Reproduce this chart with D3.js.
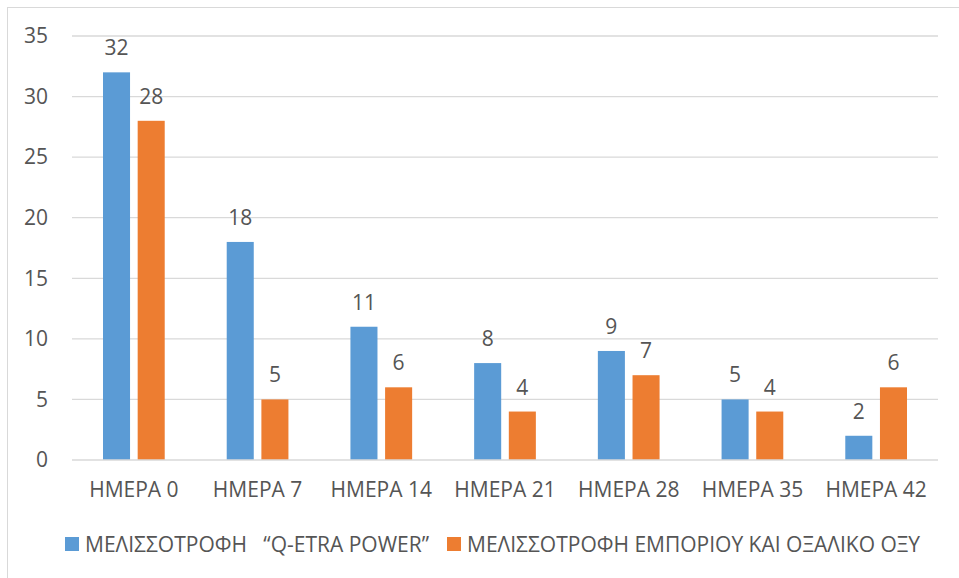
<!DOCTYPE html>
<html>
<head>
<meta charset="utf-8">
<script src="https://cdn.jsdelivr.net/npm/d3@7"></script>
<style>
  body { margin: 0; background: #fff; }
  text { font-family: "Open Sans", "Noto Sans", sans-serif; fill: #555555; }
</style>
</head>
<body>
<div id="chart"></div>
<script>
// Data
var categories = ["ΗΜΕΡΑ 0", "ΗΜΕΡΑ 7", "ΗΜΕΡΑ 14", "ΗΜΕΡΑ 21", "ΗΜΕΡΑ 28", "ΗΜΕΡΑ 35", "ΗΜΕΡΑ 42"];
var seriesNames = ["ΜΕΛΙΣΣΟΤΡΟΦΗ   “Q-ETRA POWER”", "ΜΕΛΙΣΣΟΤΡΟΦΗ ΕΜΠΟΡΙΟΥ ΚΑΙ ΟΞΑΛΙΚΟ ΟΞΥ"];
var qetra = [32, 18, 11, 8, 9, 5, 2];
var commercial = [28, 5, 6, 4, 7, 4, 6];
var yTicks = [0, 5, 10, 15, 20, 25, 30, 35];
var colors = ["#5B9BD5", "#ED7D31"];

//Setup
var W = 959, H = 578;
var fontSize = 21;
var margin = { top: 36, right: 21, bottom: 118, left: 72 },
    width = W - margin.left - margin.right,
    height = H - margin.top - margin.bottom;

var svg = d3.select("#chart").append("svg")
    .attr("width", W)
    .attr("height", H);

// outer chart border (cut off at right/bottom)
svg.append("rect")
    .attr("x", 7.5).attr("y", 7.5)
    .attr("width", W + 10).attr("height", H + 10)
    .attr("fill", "none")
    .attr("stroke", "#D9D9D9")
    .attr("stroke-width", 1);

var g = svg.append("g")
    .attr("transform", "translate(" + margin.left + "," + margin.top + ")");

var x = d3.scaleBand().domain(categories).range([0, width]).paddingInner(0).paddingOuter(0);
var y = d3.scaleLinear().domain([0, 35]).range([height, 0]);
var x1 = d3.scaleBand().domain([0, 1]).range([31, x.bandwidth() - 31]).paddingInner(0.22);

// gridlines
g.selectAll(".grid").data(yTicks.filter(d => d > 0)).enter().append("line")
    .attr("x1", 0).attr("x2", width)
    .attr("y1", d => y(d)).attr("y2", d => y(d))
    .attr("stroke", "#D9D9D9").attr("stroke-width", 1.3);

// y axis labels
var yAxis = d3.axisLeft(y).tickValues(yTicks).tickSize(0).tickPadding(24);
g.append("g").call(yAxis)
    .call(a => a.select(".domain").remove())
    .selectAll("text")
    .attr("font-size", fontSize)
    .attr("font-family", null)
    .attr("fill", "#555555");

var data = categories.map((c, i) => ({ cat: c, vals: [qetra[i], commercial[i]] }));

var groups = g.selectAll(".cat").data(data).enter().append("g")
    .attr("transform", d => "translate(" + x(d.cat) + ",0)");

groups.selectAll("rect").data(d => d.vals.map((v, k) => ({ v: v, k: k }))).enter().append("rect")
    .attr("x", d => x1(d.k))
    .attr("width", x1.bandwidth())
    .attr("y", d => y(d.v))
    .attr("height", d => height - y(d.v))
    .attr("fill", d => colors[d.k]);

groups.selectAll(".lbl").data(d => d.vals.map((v, k) => ({ v: v, k: k }))).enter().append("text")
    .attr("x", d => x1(d.k) + x1.bandwidth() / 2)
    .attr("y", d => y(d.v) - 17)
    .attr("text-anchor", "middle")
    .attr("font-size", fontSize)
    .text(d => d.v);

// baseline
g.append("line")
    .attr("x1", 0).attr("x2", width)
    .attr("y1", height).attr("y2", height)
    .attr("stroke", "#D9D9D9").attr("stroke-width", 1.5);

// x axis labels
var xAxis = d3.axisBottom(x).tickSize(0).tickPadding(22);
g.append("g").attr("transform", "translate(0," + height + ")").call(xAxis)
    .call(a => a.select(".domain").remove())
    .selectAll("text")
    .attr("font-size", fontSize)
    .attr("font-family", null)
    .attr("fill", "#555555");

// legend
var legendX = [65, 447];
var leg = svg.selectAll(".leg").data(seriesNames).enter().append("g")
    .attr("transform", (d, i) => "translate(" + legendX[i] + ",537)");
leg.append("rect")
    .attr("width", 14).attr("height", 14)
    .attr("fill", (d, i) => colors[i]);
leg.append("text")
    .attr("x", 20).attr("y", 15)
    .attr("font-size", fontSize)
    .attr("xml:space", "preserve")
    .style("white-space", "pre")
    .text(d => d);
</script>
</body>
</html>
